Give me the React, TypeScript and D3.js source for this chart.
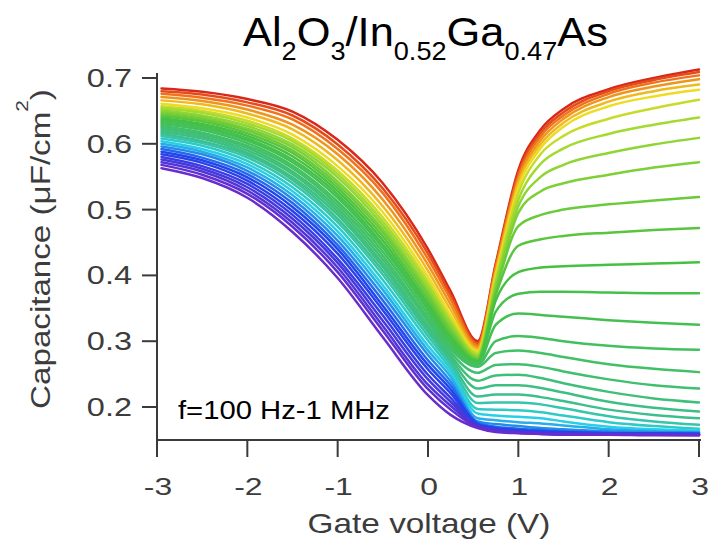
import React, { useLayoutEffect, useRef, useState } from "react";
import * as d3 from "d3";

// Gate voltage grid (V) shared by all frequency curves
const gateVoltage = [-2.95, -2.5, -2, -1.5, -1, -0.5, 0, 0.25, 0.55, 0.75, 1, 1.25, 1.5, 2, 2.5, 3];

// Capacitance (uF/cm^2), one row per measurement frequency, from 100 Hz (row 0) to 1 MHz (last row)
const capacitance: number[][] = [
  [0.684, 0.679, 0.668, 0.649, 0.606, 0.540, 0.440, 0.376, 0.300, 0.418, 0.560, 0.622, 0.653, 0.683, 0.700, 0.713],
  [0.680, 0.675, 0.663, 0.643, 0.599, 0.532, 0.433, 0.370, 0.297, 0.415, 0.555, 0.617, 0.648, 0.680, 0.697, 0.709],
  [0.676, 0.670, 0.658, 0.637, 0.592, 0.525, 0.425, 0.364, 0.294, 0.412, 0.550, 0.612, 0.643, 0.676, 0.693, 0.704],
  [0.671, 0.665, 0.652, 0.629, 0.584, 0.515, 0.416, 0.356, 0.291, 0.408, 0.545, 0.606, 0.638, 0.671, 0.687, 0.698],
  [0.666, 0.660, 0.646, 0.622, 0.575, 0.505, 0.407, 0.348, 0.288, 0.404, 0.540, 0.600, 0.632, 0.664, 0.680, 0.690],
  [0.661, 0.654, 0.640, 0.614, 0.566, 0.496, 0.398, 0.340, 0.285, 0.400, 0.534, 0.594, 0.626, 0.657, 0.672, 0.682],
  [0.657, 0.650, 0.635, 0.608, 0.559, 0.488, 0.391, 0.334, 0.282, 0.395, 0.525, 0.585, 0.612, 0.638, 0.654, 0.667],
  [0.654, 0.647, 0.631, 0.604, 0.554, 0.482, 0.385, 0.329, 0.279, 0.390, 0.515, 0.570, 0.593, 0.615, 0.629, 0.640],
  [0.651, 0.643, 0.627, 0.599, 0.549, 0.476, 0.379, 0.325, 0.277, 0.385, 0.505, 0.550, 0.568, 0.586, 0.599, 0.609],
  [0.648, 0.640, 0.623, 0.595, 0.543, 0.470, 0.374, 0.320, 0.275, 0.380, 0.495, 0.528, 0.540, 0.553, 0.564, 0.572],
  [0.645, 0.637, 0.620, 0.590, 0.538, 0.465, 0.369, 0.316, 0.273, 0.375, 0.475, 0.492, 0.500, 0.508, 0.514, 0.519],
  [0.642, 0.634, 0.616, 0.586, 0.533, 0.459, 0.363, 0.311, 0.271, 0.370, 0.445, 0.455, 0.460, 0.465, 0.469, 0.472],
  [0.639, 0.630, 0.612, 0.581, 0.528, 0.453, 0.357, 0.306, 0.270, 0.362, 0.405, 0.412, 0.414, 0.416, 0.418, 0.420],
  [0.636, 0.627, 0.608, 0.576, 0.523, 0.447, 0.352, 0.301, 0.268, 0.345, 0.372, 0.375, 0.375, 0.374, 0.373, 0.373],
  [0.633, 0.624, 0.605, 0.572, 0.518, 0.442, 0.347, 0.297, 0.266, 0.325, 0.342, 0.340, 0.337, 0.332, 0.328, 0.325],
  [0.630, 0.621, 0.601, 0.567, 0.512, 0.436, 0.341, 0.292, 0.264, 0.300, 0.308, 0.305, 0.300, 0.293, 0.289, 0.287],
  [0.627, 0.617, 0.597, 0.563, 0.507, 0.430, 0.335, 0.288, 0.261, 0.282, 0.286, 0.282, 0.276, 0.265, 0.258, 0.253],
  [0.624, 0.614, 0.594, 0.558, 0.502, 0.424, 0.330, 0.283, 0.252, 0.264, 0.265, 0.261, 0.254, 0.242, 0.233, 0.228],
  [0.621, 0.611, 0.590, 0.554, 0.497, 0.418, 0.324, 0.278, 0.240, 0.248, 0.249, 0.244, 0.236, 0.223, 0.213, 0.207],
  [0.618, 0.608, 0.586, 0.549, 0.492, 0.413, 0.319, 0.274, 0.228, 0.233, 0.233, 0.229, 0.222, 0.208, 0.199, 0.193],
  [0.615, 0.604, 0.583, 0.545, 0.486, 0.407, 0.314, 0.269, 0.216, 0.219, 0.219, 0.215, 0.209, 0.196, 0.188, 0.183],
  [0.612, 0.601, 0.579, 0.540, 0.481, 0.401, 0.308, 0.264, 0.206, 0.207, 0.207, 0.204, 0.198, 0.186, 0.178, 0.173],
  [0.608, 0.597, 0.574, 0.534, 0.474, 0.393, 0.301, 0.258, 0.197, 0.196, 0.195, 0.192, 0.187, 0.177, 0.171, 0.167],
  [0.604, 0.592, 0.569, 0.528, 0.467, 0.385, 0.293, 0.252, 0.190, 0.187, 0.185, 0.183, 0.178, 0.170, 0.166, 0.164],
  [0.600, 0.588, 0.564, 0.522, 0.460, 0.378, 0.286, 0.246, 0.183, 0.180, 0.177, 0.175, 0.172, 0.166, 0.163, 0.162],
  [0.596, 0.584, 0.559, 0.516, 0.453, 0.370, 0.279, 0.239, 0.178, 0.174, 0.171, 0.168, 0.166, 0.163, 0.162, 0.161],
  [0.592, 0.579, 0.554, 0.510, 0.446, 0.362, 0.271, 0.233, 0.176, 0.170, 0.167, 0.165, 0.163, 0.161, 0.160, 0.160],
  [0.588, 0.575, 0.549, 0.504, 0.440, 0.354, 0.264, 0.227, 0.174, 0.168, 0.165, 0.163, 0.162, 0.160, 0.160, 0.159],
  [0.584, 0.571, 0.544, 0.498, 0.433, 0.347, 0.257, 0.221, 0.173, 0.167, 0.164, 0.162, 0.161, 0.160, 0.159, 0.159],
  [0.580, 0.566, 0.539, 0.492, 0.425, 0.339, 0.249, 0.214, 0.172, 0.166, 0.163, 0.161, 0.160, 0.159, 0.159, 0.158],
  [0.576, 0.562, 0.534, 0.486, 0.419, 0.331, 0.242, 0.208, 0.171, 0.165, 0.162, 0.160, 0.159, 0.159, 0.158, 0.158],
  [0.572, 0.558, 0.529, 0.480, 0.412, 0.323, 0.234, 0.202, 0.170, 0.164, 0.161, 0.160, 0.159, 0.158, 0.158, 0.158],
  [0.568, 0.553, 0.524, 0.474, 0.405, 0.316, 0.227, 0.196, 0.169, 0.163, 0.161, 0.159, 0.158, 0.158, 0.158, 0.157],
  [0.563, 0.548, 0.518, 0.466, 0.396, 0.306, 0.218, 0.188, 0.168, 0.162, 0.160, 0.159, 0.158, 0.158, 0.157, 0.157],
];

const xTicks = [-3, -2, -1, 0, 1, 2, 3];
const yTicks = [0.2, 0.3, 0.4, 0.5, 0.6, 0.7];
const xLabel = "Gate voltage (V)";
const frequencyLabel = "f=100 Hz-1 MHz";

const FONT = "'Liberation Sans', Arial, Helvetica, sans-serif";
const W = 710;
const H = 544;

function FitText(props: {
  x: number;
  y: number;
  width?: number;
  sx?: number;
  anchor?: string;
  rotate?: number;
  fontSize: number;
  fill?: string;
  children: React.ReactNode;
}) {
  const { x, y, width, sx, anchor = "start", rotate = 0, fontSize, fill = "#000", children } = props;
  const ref = useRef<SVGTextElement>(null);
  const [scale, setScale] = useState(sx ?? 1);
  useLayoutEffect(() => {
    if (width && ref.current) {
      const w = ref.current.getBBox().width;
      if (w > 0) setScale(width / w);
    }
  }, [width]);
  return (
    <g transform={`translate(${x},${y}) rotate(${rotate}) scale(${scale},1)`}>
      <text ref={ref} x={0} y={0} textAnchor={anchor as any} fontSize={fontSize} fill={fill} fontFamily={FONT}>
        {children}
      </text>
    </g>
  );
}

export default function App() {
  const x = d3.scaleLinear().domain([-3, 3]).range([157, 699]);
  const y = d3.scaleLinear().domain([0.2, 0.7]).range([407, 78]);
  const yAxisTop = 73;
  const xAxisY = 440;

  const color = d3
    .scaleLinear<string>()
    .domain([0, 2, 5, 7, 12, 20, 23, 27, 33])
    .range(["#d8281a", "#f0721c", "#eedc22", "#a2da30", "#46c040", "#3cbf8c", "#28d0e6", "#2046ee", "#6a2ccc"])
    .interpolate(d3.interpolateRgb);

  const line = d3
    .line<number>()
    .x((_, i) => x(gateVoltage[i]))
    .y((d) => y(d))
    .curve(d3.curveMonotoneX);

  const axisColor = "#3a3a3a";
  const labelColor = "#3c3c3c";

  return (
    <svg width={W} height={H} style={{ position: "absolute", left: 0, top: 0, background: "#fff" }}>
      <rect x={0} y={0} width={W} height={H} fill="#fff" />

      {/* title */}
      <FitText x={243} y={46} width={365} fontSize={40} fill="#000">
        <tspan>Al</tspan>
        <tspan dy={14} fontSize={25}>2</tspan>
        <tspan dy={-14}>O</tspan>
        <tspan dy={14} fontSize={25}>3</tspan>
        <tspan dy={-14}>/In</tspan>
        <tspan dy={14} fontSize={25}>0.52</tspan>
        <tspan dy={-14}>Ga</tspan>
        <tspan dy={14} fontSize={25}>0.47</tspan>
        <tspan dy={-14}>As</tspan>
      </FitText>

      {/* curves */}
      <g fill="none" strokeWidth={2.5} strokeLinejoin="round" strokeLinecap="round">
        {capacitance.map((row, i) => (
          <path key={i} d={line(row) || ""} stroke={color(i)} />
        ))}
      </g>

      {/* axes */}
      <g stroke={axisColor} strokeWidth={2}>
        <line x1={x(-3)} x2={x(-3)} y1={yAxisTop} y2={xAxisY} />
        <line x1={x(-3) - 1} x2={x(3) + 2} y1={xAxisY} y2={xAxisY} />
        {yTicks.map((t) => (
          <line key={t} x1={x(-3) - 15} x2={x(-3)} y1={y(t)} y2={y(t)} />
        ))}
        {xTicks.map((t) => (
          <line key={t} x1={x(t)} x2={x(t)} y1={xAxisY} y2={xAxisY + 17} />
        ))}
      </g>

      {yTicks.map((t) => (
        <FitText key={t} x={132} y={y(t) + 9} sx={1.3} anchor="end" fontSize={25} fill={labelColor}>
          {t.toFixed(1)}
        </FitText>
      ))}
      {xTicks.map((t) => (
        <FitText key={t} x={x(t) + 1} y={495} sx={1.33} anchor="middle" fontSize={24} fill={labelColor}>
          {String(t)}
        </FitText>
      ))}

      <FitText x={429} y={533} width={243} anchor="middle" fontSize={28} fill={labelColor}>
        {xLabel}
      </FitText>

      <FitText x={50} y={249} width={320} anchor="middle" rotate={-90} fontSize={27} fill={labelColor}>
        <tspan>Capacitance (μF/cm</tspan>
        <tspan dy={-22} fontSize={17}>2</tspan>
        <tspan dy={22}>)</tspan>
      </FitText>

      <FitText x={178} y={419} width={212} fontSize={26} fill="#000">
        {frequencyLabel}
      </FitText>
    </svg>
  );
}
